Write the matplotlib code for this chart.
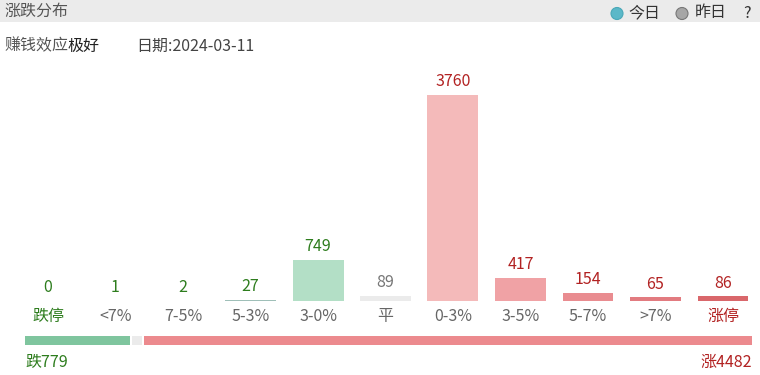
import matplotlib
matplotlib.use("Agg")
import matplotlib.pyplot as plt
from matplotlib.patches import Rectangle, Circle

plt.rcParams['font.family'] = ['Noto Sans CJK SC', 'DejaVu Sans']

categories = ['跌停', '<7%', '7-5%', '5-3%', '3-0%', '平', '0-3%', '3-5%', '5-7%', '>7%', '涨停']
values = [0, 1, 2, 27, 749, 89, 3760, 417, 154, 65, 86]
bar_colors = ['#b3dfc6', '#b3dfc6', '#b3dfc6', '#9fbfb8', '#b3dfc6', '#ebebeb',
              '#f4baba', '#f0a2a5', '#e98c90', '#e27b80', '#d9676b']
value_colors = ['#2e7d1e'] * 5 + ['#777777'] + ['#b22222'] * 5
cat_colors = ['#2e7d1e'] + ['#666666'] * 9 + ['#b22222']
down_total = 779
flat_total = 89
up_total = 4482
title = '涨跌分布'
date_text = '日期:2024-03-11'

W, H = 760, 375
FS = 11.5
fig = plt.figure(figsize=(W / 100, H / 100), dpi=100)
fig.patch.set_facecolor('white')

def fx(px):
    return px / W

def fy(py):
    return 1 - py / H

# overlay axes in pixel coordinates for header decorations
ax_bg = fig.add_axes([0, 0, 1, 1], facecolor='none')
ax_bg.set_xlim(0, W)
ax_bg.set_ylim(H, 0)
ax_bg.axis('off')
ax_bg.add_patch(Rectangle((0, 0), W, 22, facecolor='#ebebeb', edgecolor='none'))
ax_bg.text(4, 11, title, fontsize=FS, color='#555555', va='center', ha='left')

# legend
ax_bg.add_patch(Circle((617, 13.5), 6, facecolor='#5bb8c8', edgecolor='#4aa8b8', lw=0.8))
ax_bg.text(628, 13, '今日', fontsize=FS, color='#333333', va='center', ha='left')
ax_bg.add_patch(Circle((682, 13.5), 6, facecolor='#a6a6a6', edgecolor='#777777', lw=0.8))
ax_bg.text(695, 13, '昨日', fontsize=FS, color='#333333', va='center', ha='left')
ax_bg.text(747, 13, '?', fontsize=FS, color='#333333', va='center', ha='center')

# second line
ax_bg.text(4, 46, '赚钱效应', fontsize=FS, color='#555555', va='center', ha='left')
ax_bg.text(68, 46, '极好', fontsize=FS, color='#222222', va='center', ha='left')
ax_bg.text(136, 46, date_text, fontsize=FS, color='#444444', va='center', ha='left')

# bar chart
left_px = 48 - 67.5 / 2
ax = fig.add_axes([fx(left_px), 74 / H, 67.5 * 11 / W, 206 / H], facecolor='none')
x = list(range(len(categories)))
ax.bar(x, values, width=51 / 67.5, color=bar_colors, edgecolor='none')
ax.set_xlim(-0.5, len(categories) - 0.5)
ax.set_ylim(0, max(values))
ax.axis('off')
for xi, v, c in zip(x, values, value_colors):
    ax.annotate(str(v), (xi, v), xytext=(0, 9.5), textcoords='offset points',
                ha='center', va='center', fontsize=FS, color=c)
for xi, cat, c in zip(x, categories, cat_colors):
    ax.annotate(cat, (xi, 0), xytext=(0, -11), textcoords='offset points',
                ha='center', va='center', fontsize=FS, color=c)

# summary bar
ax2 = fig.add_axes([fx(25), 1 - 345 / H, (752 - 25) / W, 9 / H], facecolor='none')
total = down_total + flat_total + up_total
gap = 2 * total / (752 - 25)
ax2.barh(0, down_total - gap / 2, left=0, height=1, color='#7fc59e')
ax2.barh(0, flat_total - gap, left=down_total + gap / 2, height=1, color='#ebebeb')
ax2.barh(0, up_total - gap / 2, left=down_total + flat_total + gap / 2, height=1, color='#ec8a8e')
ax2.set_xlim(0, total)
ax2.set_ylim(-0.5, 0.5)
ax2.axis('off')

fig.text(fx(25), fy(362), f'跌{down_total}', fontsize=FS, color='#2e7d1e', va='center', ha='left')
fig.text(fx(752), fy(362), f'涨{up_total}', fontsize=FS, color='#b22222', va='center', ha='right')

fig.savefig('out.png', dpi=100)
